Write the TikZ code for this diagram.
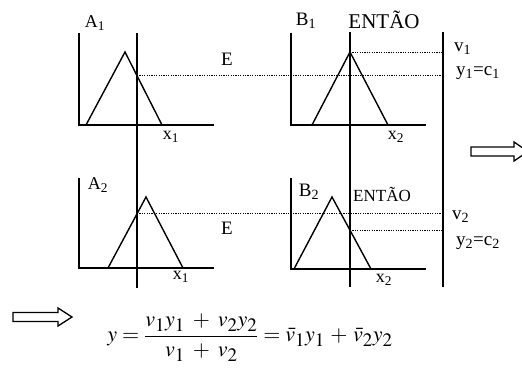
\documentclass[tikz,border=0pt]{standalone}
\usepackage{amsmath}
\usepackage{mathptmx}
\usepackage{fontspec}
\setmainfont{Liberation Serif}
\DeclareMathSizes{22}{22}{19}{15}
\usetikzlibrary{positioning,intersections}
\tikzset{
  eixo/.style={line width=1.4pt},
  guia/.style={line width=1pt,dash pattern=on 1.1pt off 1.3pt},
  rotulo/.style={inner sep=0pt,font=\fontsize{18}{20}\selectfont},
  rotulog/.style={rotulo,font=\fontsize{19}{21}\selectfont},
  setaoca/.style={line width=1.3pt,line join=miter},
}

\begin{document}
\begin{tikzpicture}[x=1pt,y=-1pt]
  \useasboundingbox (0,0) rectangle (522,372);

  % eixos dos quatro graficos
  \draw[eixo] (79,33) |- (214,125);
  \draw[eixo] (291,33) |- (426,125);
  \draw[eixo] (79,178) |- (214,268);
  \draw[eixo] (291,178) |- (426,269);

  % funcoes de pertinencia
  \draw[eixo,name path=tA1] (86,125) -- (125,52) -- (162,125);
  \draw[eixo] (312,125) -- (350,52) coordinate (topoB1) -- (388,125);
  \draw[eixo,name path=tA2] (108,268) -- (146,197) -- (183,268);
  \draw[eixo,name path=tB2] (294,269) -- (332,197) -- (371,269);

  % entradas x1, x2 e saida
  \draw[eixo,name path=ent1] (137,33) -- (137,288);
  \draw[eixo,name path=ent2] (350,32) -- (350,287);
  \draw[eixo] (443,32) coordinate (saida) -- (443,287);

  \path[name intersections={of=tA1 and ent1,by=gA1}];
  \path[name intersections={of=tA2 and ent1,by=gA2}];
  \path[name intersections={of=tB2 and ent2,by=gB2}];

  \draw[guia] (gA1) -- (gA1 -| saida);
  \draw[guia] (topoB1) -- (topoB1 -| saida);
  \draw[guia] (gA2) -- (gA2 -| saida);
  \draw[guia] (gB2) -- (gB2 -| saida);

  % rotulos
  \node[rotulo] (rA1) at (95,23) {A\textsubscript{1}};
  \node[rotulog] (rB1) at (306,21) {B\textsubscript{1}};
  \node[rotulo,font=\fontsize{21}{23}\selectfont] (then1) at (384,20) {ENTÃO};
  \node[rotulog] (e1) at (227,59) {E};
  \node[rotulo] (rx1) at (171,137) {x\textsubscript{1}};
  \node[rotulo] (rx2) at (396,137) {x\textsubscript{2}};
  \node[rotulog,anchor=west] (rv1) at (454,49) {v\textsubscript{1}};
  \node[rotulog,anchor=west] (ry1) at (456,73) {y\textsubscript{1}=c\textsubscript{1}};

  \node[rotulo] (rA2) at (98,185) {A\textsubscript{2}};
  \node[rotulog] (rB2) at (309,192) {B\textsubscript{2}};
  \node[rotulo,font=\fontsize{17}{19}\selectfont] (then2) at (382,194) {ENTÃO};
  \node[rotulog] (e2) at (227,228) {E};
  \node[rotulo] (rx1b) at (181,277) {x\textsubscript{1}};
  \node[rotulo] (rx2b) at (384,280) {x\textsubscript{2}};
  \node[rotulog,anchor=west] (rv2) at (452,217) {v\textsubscript{2}};
  \node[rotulog,anchor=west] (ry2) at (456,243) {y\textsubscript{2}=c\textsubscript{2}};

  % setas ocas
  \draw[setaoca] (471,147) -- (514,147) -- (514,142) -- (528,151.5)
    -- (514,161) -- (514,156) -- (471,156) -- cycle;
  \draw[setaoca] (13,312.5) -- (58,312.5) -- (58,308) -- (72,317)
    -- (58,326) -- (58,321.5) -- (13,321.5) -- cycle;

  % defuzzificacao
  \node[font=\fontsize{22}{24}\selectfont] (eq) at (250,338)
    {$y=\dfrac{v_1y_1\;+\;v_2y_2}{v_1\;+\;v_2}=\bar v_1y_1\,+\,\bar v_2y_2$};
\end{tikzpicture}
\end{document}
